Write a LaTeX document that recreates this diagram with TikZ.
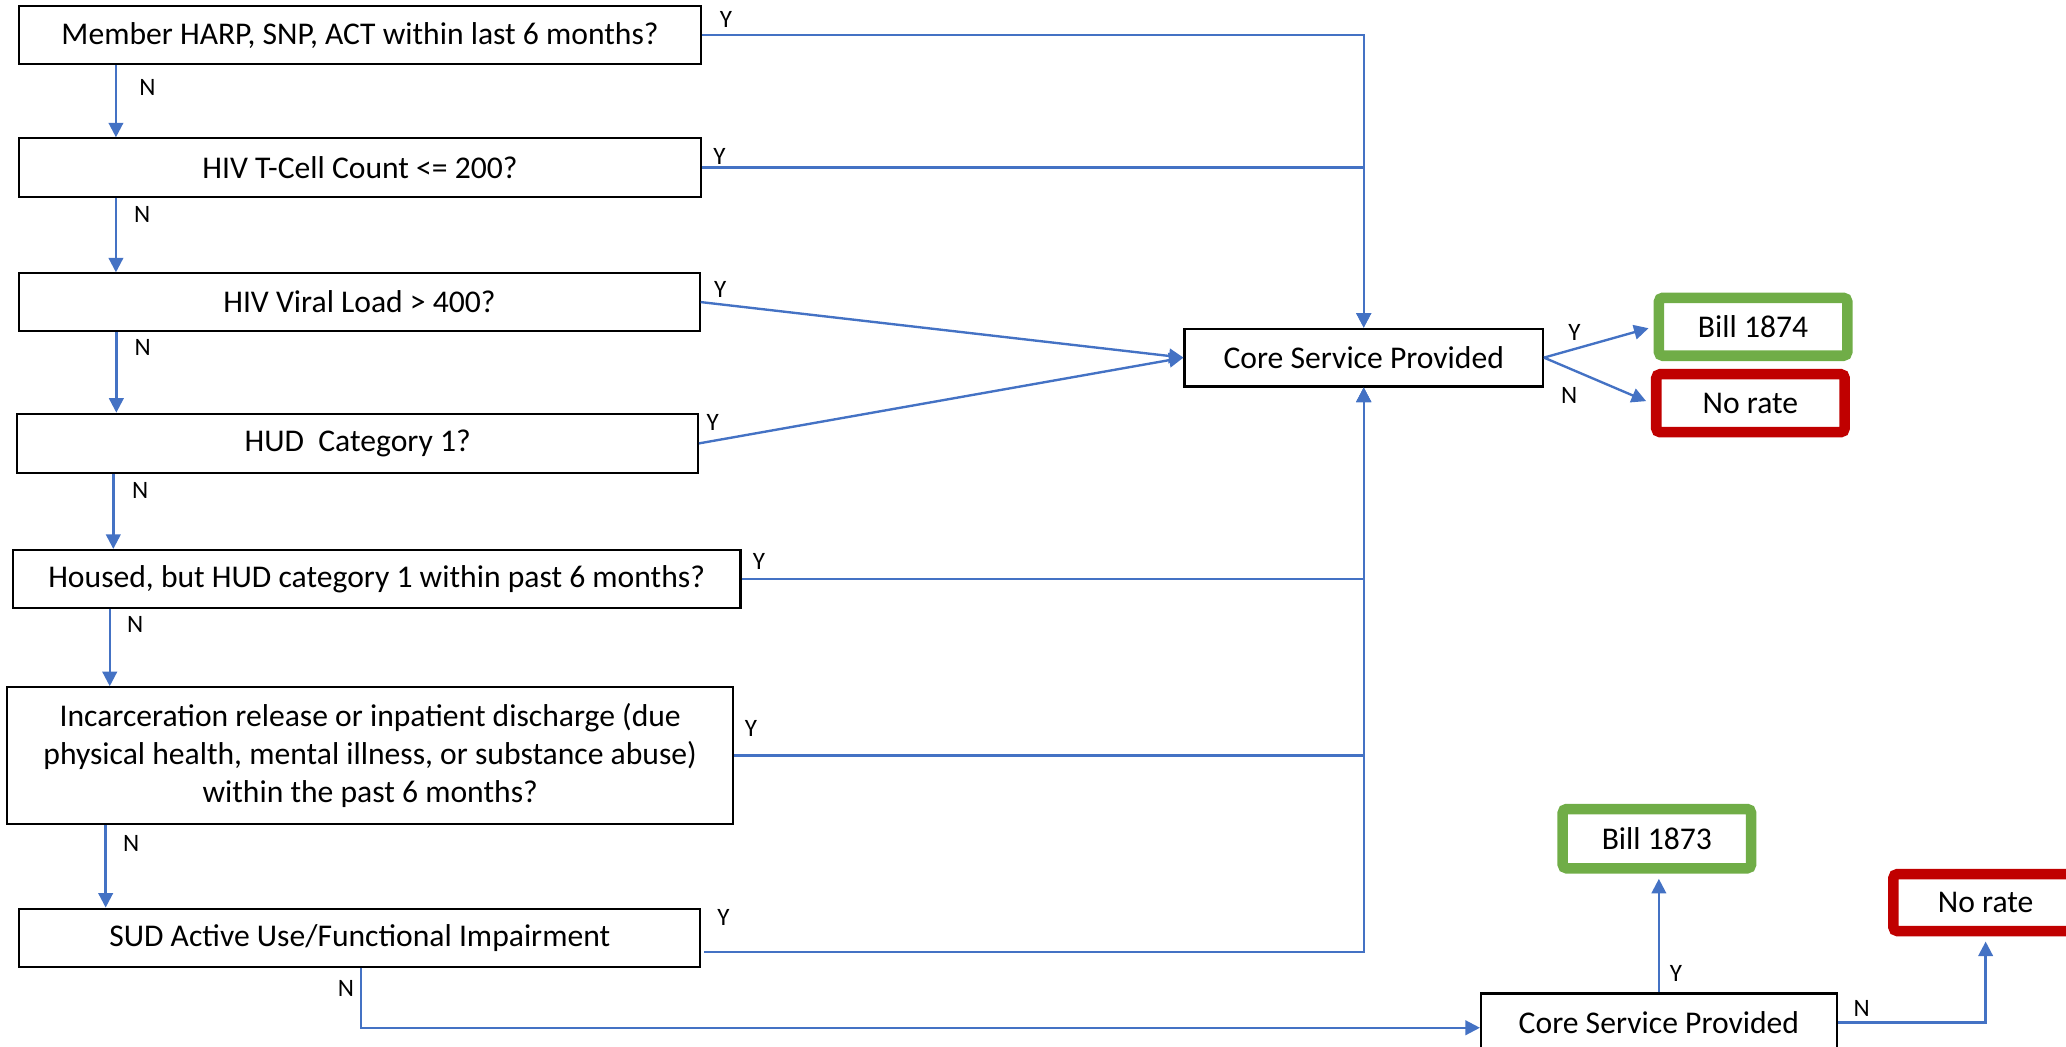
\documentclass[tikz,border=0pt]{standalone}
\usepackage{fontspec}
\setmainfont{Carlito}
\usetikzlibrary{arrows.meta}
\definecolor{cblue}{HTML}{4472C4}
\definecolor{cgreen}{HTML}{70AD47}
\definecolor{cred}{HTML}{C00000}
\begin{document}
\begin{tikzpicture}[x=0.5pt,y=-0.5pt,
  qbox/.style={draw=black, line width=0.8pt, inner sep=0pt, align=center, font=\fontsize{12}{14.5}\selectfont},
  billbox/.style={draw=cgreen, line width=4pt, rounded corners=1.5pt, inner sep=0pt, align=center, font=\fontsize{12}{14.5}\selectfont},
  ratebox/.style={draw=cred, line width=4pt, rounded corners=1.5pt, inner sep=0pt, align=center, font=\fontsize{12}{14.5}\selectfont},
  arr/.style={draw=cblue, line width=0.9pt, -{Triangle[length=5.5pt,width=5.5pt]}},
  lbl/.style={font=\fontsize{9.5}{11}\selectfont, inner sep=0pt}]
\useasboundingbox (0,0) rectangle (1568,794.6);
\clip (0,0) rectangle (1568,794.6);

% question boxes
\node[qbox, minimum width=258.75pt, minimum height=22pt] (b1) at (273.25,26.6) {Member HARP, SNP, ACT within last 6 months?};
\node[qbox, minimum width=258.75pt, minimum height=22.15pt] (b2) at (273.25,127.15) {HIV T-Cell Count <= 200?};
\node[qbox, minimum width=258.15pt, minimum height=21.75pt] (b3) at (272.85,229.25) {HIV Viral Load > 400?};
\node[qbox, minimum width=258.25pt, minimum height=22.5pt] (b4) at (271.45,336.5) {HUD\ \ Category 1?};
\node[qbox, minimum width=276.15pt, minimum height=22.05pt] (b5) at (285.85,439.45) {Housed, but HUD category 1 within past 6 months?};
\node[qbox, minimum width=275.55pt, minimum height=51.9pt] (b6) at (280.95,573.5) {Incarceration release or inpatient discharge (due\\physical health, mental illness, or substance abuse)\\within the past 6 months?};
\node[qbox, minimum width=258.35pt, minimum height=22.05pt] (b7) at (273.05,711.65) {SUD Active Use/Functional Impairment};

% core service boxes
\node[qbox, minimum width=136pt, minimum height=21.9pt] (c1) at (1035,271.4) {Core Service Provided};
\node[qbox, minimum width=135pt, minimum height=22pt] (c2) at (1259,776) {Core Service Provided};

% outcome boxes
\node[billbox, minimum width=71.5pt, minimum height=22pt] (b1874) at (1330.5,248) {Bill 1874};
\node[ratebox, minimum width=71.5pt, minimum height=22pt] (nr1) at (1328.5,306) {No rate};
\node[billbox, minimum width=71.5pt, minimum height=22.5pt] (b1873) at (1257.5,636.5) {Bill 1873};
\node[ratebox, minimum width=70pt, minimum height=21.6pt] (nr2) at (1507,685) {No rate};

% N chain
\coordinate (x1) at (88,0);
\coordinate (x2) at (88,0);
\coordinate (x3) at (88.3,0);
\coordinate (x4) at (86,0);
\coordinate (x5) at (83.3,0);
\coordinate (x6) at (80.2,0);
\draw[arr] (b1.south -| x1) -- (b2.north -| x1);
\draw[arr] (b2.south -| x2) -- (b3.north -| x2);
\draw[arr] (b3.south -| x3) -- (b4.north -| x3);
\draw[arr] (b4.south -| x4) -- (b5.north -| x4);
\draw[arr] (b5.south -| x5) -- (b6.north -| x5);
\draw[arr] (b6.south -| x6) -- (b7.north -| x6);

% Y connectors to core service 1
\draw[arr] (b1.east) -| (c1.north);
\draw[arr] (b2.east) -| (c1.north);
\draw[arr] (b3.east) -- (c1.west);
\draw[arr] (b4.east) -- (c1.west);
\draw[arr] (b5.east) -| (c1.south);
\draw[arr] (b6.east) -| (c1.south);
\coordinate (y7s) at (534.4,722.5);
\draw[arr] (y7s) -| (c1.south);

% core service 1 outcomes
\draw[arr, shorten >=2pt] (c1.east) -- (b1874.west);
\draw[arr, shorten >=2pt] (c1.east) -- (nr1.west);

% SUD N to core service 2
\coordinate (n7) at (274,780);
\draw[arr] (b7.south -| n7) -- (n7) -- (c2.west |- n7);
\draw[arr, shorten >=2pt] (c2.north) -- (c2.north |- b1873.south);
\draw[arr, shorten >=2pt] (c2.east) -| (nr2.south);

% labels
\node[lbl] (ly1) at (551,14.7) {Y};
\node[lbl] (ly2) at (546,118.4) {Y};
\node[lbl] (ly3) at (546.6,219.6) {Y};
\node[lbl] (ly4) at (541,321) {Y};
\node[lbl] (ly5) at (576,426) {Y};
\node[lbl] (ly6) at (570,552.7) {Y};
\node[lbl] (ly7) at (549,696) {Y};
\node[lbl] (ln1) at (112,66) {N};
\node[lbl] (ln2) at (108,163) {N};
\node[lbl] (ln3) at (108.4,264) {N};
\node[lbl] (ln4) at (106.5,372) {N};
\node[lbl] (ln5) at (102.6,474) {N};
\node[lbl] (ln6) at (99.5,640) {N};
\node[lbl] (ln7) at (262.6,750) {N};
\node[lbl] (lc1y) at (1195,252) {Y};
\node[lbl] (lc1n) at (1191,300) {N};
\node[lbl] (lc2y) at (1272,739) {Y};
\node[lbl] (lc2n) at (1413,765) {N};
\end{tikzpicture}
\end{document}
